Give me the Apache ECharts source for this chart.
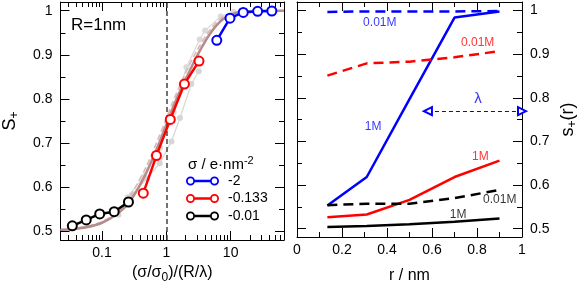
<!DOCTYPE html>
<html>
<head>
<meta charset="utf-8">
<script src="https://cdn.jsdelivr.net/npm/echarts@6/dist/echarts.min.js"></script>
<style>html,body{margin:0;padding:0;background:#fff}#c{width:581px;height:289px}</style>
</head>
<body>
<div id="c"></div>
<script>
// ---- Left panel data: S+ vs (sigma/sigma0)/(R/lambda) ----
const blackX = [0.0345, 0.0568, 0.092, 0.1545, 0.2576];
const blackY = [0.513, 0.5265, 0.540, 0.545, 0.567];
const redX = [0.438, 0.702, 1.152, 1.91, 3.22];
const redY = [0.587, 0.672, 0.754, 0.834, 0.886];
const blueX = [6.09, 9.77, 15.7, 26.3, 43.7];
const blueY = [0.933, 0.983, 0.996, 0.9986, 0.9993];
const greyAX = [0.18, 0.29, 0.5, 0.79, 1.2, 1.63, 2.45, 3.2];
const greyAY = [0.538, 0.583, 0.62, 0.655, 0.704, 0.757, 0.834, 0.863];
const greyBX = [0.25, 0.45, 0.8, 1.3, 2.05, 3.3, 4.0, 7.0, 11];
const greyBY = [0.578, 0.625, 0.69, 0.77, 0.872, 0.935, 0.955, 0.987, 0.997];
const theoryX = [0.0226, 0.0345, 0.057, 0.1, 0.17, 0.26, 0.43, 0.7, 1.0, 1.44, 2.16, 3.2, 4.9, 7.5, 11.9, 20, 67];
const theoryY = [0.504, 0.506, 0.51, 0.52, 0.54, 0.565, 0.617, 0.685, 0.742, 0.8, 0.855, 0.905, 0.95, 0.98, 0.995, 0.999, 1.0];
const theory2X = [0.0226, 0.05, 0.1, 0.2, 0.3, 0.5, 0.8, 1.2, 2, 3, 5, 8, 15, 67];
const theory2Y = [0.504, 0.51, 0.522, 0.552, 0.59, 0.65, 0.72, 0.785, 0.86, 0.91, 0.96, 0.988, 0.998, 1.0];
const legendNames = ['-2', '-0.133', '-0.01'];

// ---- Right panel data: s+(r) vs r ----
const rX = [0.135, 0.31, 0.5, 0.7, 0.9];
const blue1M = [0.553, 0.6185, 0.797, 0.984, 0.998];
const blue001M = [0.997, 0.998, 0.998, 0.998, 0.999];
const red1M = [0.5265, 0.5325, 0.566, 0.6185, 0.656];
const red001M = [0.851, 0.879, 0.883, 0.893, 0.907];
const black1M = [0.504, 0.506, 0.51, 0.516, 0.5235];
const black001M = [0.554, 0.557, 0.557, 0.57, 0.589];

// ---- Ticks ----
const logMajor = [0.1, 1, 10];
const logMinor = [0.03,0.04,0.05,0.06,0.07,0.08,0.09,0.2,0.3,0.4,0.5,0.6,0.7,0.8,0.9,2,3,4,5,6,7,8,9,20,30,40,50,60];
const yMajor = [0.5, 0.6, 0.7, 0.8, 0.9, 1];
const yMinor = [0.55, 0.65, 0.75, 0.85, 0.95];

// ---- Annotations (right panel) ----
const annot = [
  {x: 0.368, y: 0.9715, t: '0.01M', c: '#0000ff'},
  {x: 0.803, y: 0.927, t: '0.01M', c: '#ff0000'},
  {x: 0.338, y: 0.7346, t: '1M', c: '#0000ff'},
  {x: 0.815, y: 0.664, t: '1M', c: '#ff0000'},
  {x: 0.901, y: 0.5656, t: '0.01M', c: '#000000'},
  {x: 0.716, y: 0.532, t: '1M', c: '#000000'},
  {x: 0.804, y: 0.798, t: 'λ', c: '#0000ff'}
];
const lambdaArrow = {x0: 0.582, x1: 1.0, y: 0.7695};

const zip = (xs, ys) => xs.map((x, i) => [x, ys[i]]);
const FONT = "'Liberation Sans', Arial, Helvetica, sans-serif";
const XMIN = 0.0226, XMAX = 67.6, YMIN = 0.481, YMAX = 1.0197;

function logAxis(pos, values, len, labels, extra) {
  return Object.assign({
    type: 'log', logBase: 10, gridIndex: 0, position: pos, min: XMIN, max: XMAX,
    axisLine: {show: true, onZero: false, lineStyle: {color: '#000', width: 1}},
    axisTick: {show: true, inside: true, length: len, customValues: values, lineStyle: {color: '#000', width: 1}},
    axisLabel: labels ? {show: true, customValues: logMajor, fontSize: 14, color: '#000', fontFamily: FONT, margin: 6,
      formatter: v => String(v)} : {show: false},
    splitLine: {show: false}, minorTick: {show: false}, minorSplitLine: {show: false}
  }, extra || {});
}
function rAxis(pos, labels, extra) {
  return Object.assign({
    type: 'value', gridIndex: 1, position: pos, min: 0, max: 1, interval: 0.2,
    axisLine: {show: true, onZero: false, lineStyle: {color: '#000', width: 1}},
    axisTick: {show: true, inside: true, length: 9, lineStyle: {color: '#000', width: 1}},
    minorTick: {show: true, splitNumber: 2, length: 5, lineStyle: {color: '#000', width: 1}},
    axisLabel: labels ? {show: true, fontSize: 14, color: '#000', fontFamily: FONT, margin: 6,
      formatter: v => String(+v.toFixed(1))} : {show: false},
    splitLine: {show: false}
  }, extra || {});
}
function yAx(grid, pos, values, len, labels, extra) {
  return Object.assign({
    type: 'value', gridIndex: grid, position: pos, min: YMIN, max: YMAX,
    axisLine: {show: true, onZero: false, lineStyle: {color: '#000', width: 1}},
    axisTick: {show: true, inside: true, length: len, customValues: values, lineStyle: {color: '#000', width: 1}},
    axisLabel: labels ? {show: true, customValues: yMajor, fontSize: 14, color: '#000', fontFamily: FONT, margin: 8,
      formatter: v => String(+v.toFixed(1))} : {show: false},
    splitLine: {show: false}
  }, extra || {});
}

const ringIcon = 'path://M0,9 A9,9 0 1,1 18,9 A9,9 0 1,1 0,9 Z M3.6,9 A5.4,5.4 0 1,0 14.4,9 A5.4,5.4 0 1,0 3.6,9 Z ' +
  'M48,9 A9,9 0 1,1 66,9 A9,9 0 1,1 48,9 Z M51.6,9 A5.4,5.4 0 1,0 62.4,9 A5.4,5.4 0 1,0 51.6,9 Z ' +
  'M17.5,6.5 L48.5,6.5 L48.5,11.5 L17.5,11.5 Z';

const subRich = {sub: {fontSize: 12, fontFamily: FONT, verticalAlign: 'bottom', padding: [9, 0, 0, 0]}};

function dataSeries(name, xs, ys, color) {
  return {
    name, type: 'line', xAxisIndex: 0, yAxisIndex: 0, data: zip(xs, ys), z: 5,
    symbol: 'circle', symbolSize: 9, showSymbol: true,
    itemStyle: {color: '#fff', borderColor: color, borderWidth: 2},
    lineStyle: {color, width: 2.5}, color
  };
}
function rSeries(ys, color, dashed) {
  return {
    type: 'line', xAxisIndex: 4, yAxisIndex: 4, data: zip(rX, ys), symbol: 'none',
    lineStyle: {color, width: 2.5, type: dashed ? [10, 6] : 'solid'}, z: 4
  };
}

const chart = echarts.init(document.getElementById('c'), null, {renderer: 'canvas'});
chart.setOption({
  animation: false,
  textStyle: {fontFamily: FONT},
  grid: [
    {left: 58, top: 2, width: 226, height: 238},
    {left: 297, top: 2, width: 225, height: 238}
  ],
  xAxis: [
    logAxis('bottom', logMajor, 9, true, {
      name: '(σ/σ{sub|0})/(R/λ)', nameLocation: 'middle', nameGap: 21,
      nameTextStyle: {fontSize: 16, color: '#000', fontFamily: FONT, rich: subRich}
    }),
    logAxis('bottom', logMinor, 5, false, {axisLine: {show: false, onZero: false}}),
    logAxis('top', logMajor, 9, false),
    logAxis('top', logMinor, 5, false, {axisLine: {show: false, onZero: false}}),
    rAxis('bottom', true, {
      name: 'r / nm', nameLocation: 'middle', nameGap: 31,
      nameTextStyle: {fontSize: 16, color: '#000', fontFamily: FONT}
    }),
    rAxis('top', false)
  ],
  yAxis: [
    yAx(0, 'left', yMajor, 9, true, {
      name: 'S{sub|+}', nameLocation: 'middle', nameGap: 40, nameRotate: 90,
      nameTextStyle: {fontSize: 18, color: '#000', fontFamily: FONT, rich: subRich}
    }),
    yAx(0, 'left', yMinor, 5, false, {axisLine: {show: false, onZero: false}}),
    yAx(0, 'right', yMajor, 9, false),
    yAx(0, 'right', yMinor, 5, false, {axisLine: {show: false, onZero: false}}),
    yAx(1, 'left', yMajor, 9, false),
    yAx(1, 'left', yMinor, 5, false, {axisLine: {show: false, onZero: false}}),
    yAx(1, 'right', yMajor, 9, true, {
      name: 's{sub|+}(r)', nameLocation: 'middle', nameGap: 36, nameRotate: 90,
      nameTextStyle: {fontSize: 18, color: '#000', fontFamily: FONT, rich: subRich}
    }),
    yAx(1, 'right', yMinor, 5, false, {axisLine: {show: false, onZero: false}})
  ],
  legend: {
    left: 186, top: 174, orient: 'vertical', itemWidth: 33, itemHeight: 9, itemGap: 3.5, padding: 0,
    textStyle: {fontSize: 14, color: '#000', fontFamily: FONT, padding: [0, 0, 0, 4]},
    data: [
      {name: legendNames[0], icon: ringIcon, itemStyle: {color: '#0000ff', borderWidth: 0}},
      {name: legendNames[1], icon: ringIcon, itemStyle: {color: '#ff0000', borderWidth: 0}},
      {name: legendNames[2], icon: ringIcon, itemStyle: {color: '#000000', borderWidth: 0}}
    ]
  },
  graphic: [
    {type: 'text', left: 71, top: 17, style: {text: 'R=1nm', fontSize: 17, fontFamily: FONT, fill: '#000'}},
    {type: 'text', left: 188, top: 155, style: {
      text: 'σ / e·nm{sup|-2}', fontSize: 15, fontFamily: FONT, fill: '#000',
      rich: {sup: {fontSize: 11, fontFamily: FONT, verticalAlign: 'top', padding: [0, 0, 9, 0]}}
    }}
  ],
  series: [
    {
      type: 'line', xAxisIndex: 0, yAxisIndex: 0, data: zip(greyAX, greyAY), z: 1,
      symbol: 'circle', symbolSize: 6, itemStyle: {color: '#d6d6d6'}, lineStyle: {color: '#d6d6d6', width: 1.2},
      markLine: {silent: true, symbol: 'none', label: {show: false}, z: 3,
        lineStyle: {color: '#444', type: [5, 3], width: 1.5}, data: [{xAxis: 1}]}
    },
    {
      type: 'line', xAxisIndex: 0, yAxisIndex: 0, data: zip(greyBX, greyBY), z: 1,
      symbol: 'circle', symbolSize: 6, itemStyle: {color: '#dadada'}, lineStyle: {color: '#dadada', width: 1.2}
    },
    {
      type: 'line', xAxisIndex: 0, yAxisIndex: 0, data: zip(theory2X, theory2Y), z: 2, smooth: 0.3,
      symbol: 'none', lineStyle: {color: '#dcbcbc', width: 1.8, type: [6, 3]}
    },
    {
      type: 'line', xAxisIndex: 0, yAxisIndex: 0, data: zip(theoryX, theoryY), z: 2, smooth: 0.3,
      symbol: 'none', lineStyle: {color: '#b48c8c', width: 2.5}
    },
    dataSeries(legendNames[2], blackX, blackY, '#000000'),
    dataSeries(legendNames[1], redX, redY, '#ff0000'),
    dataSeries(legendNames[0], blueX, blueY, '#0000ff'),
    rSeries(blue1M, '#0000ff', false),
    rSeries(blue001M, '#0000ff', true),
    rSeries(red1M, '#ff0000', false),
    rSeries(red001M, '#ff0000', true),
    rSeries(black1M, '#000000', false),
    rSeries(black001M, '#000000', true),
    {
      type: 'scatter', xAxisIndex: 4, yAxisIndex: 4, symbolSize: 0, z: 6, silent: true,
      data: annot.map(a => ({value: [a.x, a.y], label: {show: true, position: 'inside', formatter: a.t,
        color: a.c, fontSize: a.t === 'λ' ? 15 : 12, fontFamily: FONT}})),
      markLine: {
        silent: true, symbol: ['emptyTriangle', 'emptyTriangle'], symbolSize: [8, 8],
        label: {show: false}, lineStyle: {color: '#0000ff', type: [4, 3], width: 1},
        itemStyle: {color: '#0000ff', borderColor: '#0000ff'},
        data: [[{coord: [lambdaArrow.x0, lambdaArrow.y]}, {coord: [lambdaArrow.x1, lambdaArrow.y]}]]
      }
    }
  ]
});
</script>
</body>
</html>
